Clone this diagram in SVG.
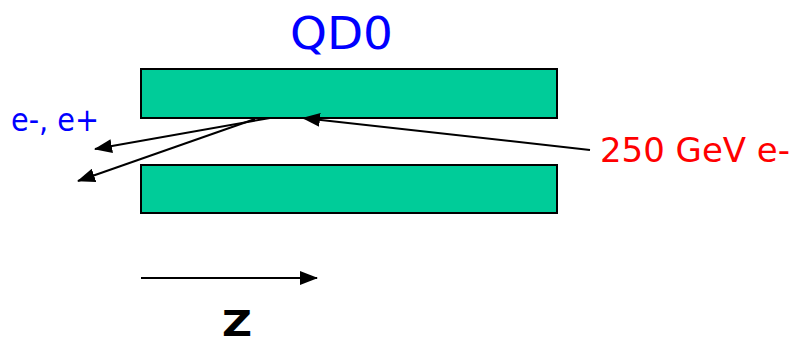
<svg xmlns="http://www.w3.org/2000/svg" width="797" height="346" viewBox="0 0 797 346">
<style>
.bar{fill:#00CC99;stroke:#000;stroke-width:2}
.ln{stroke:#000;stroke-width:2;fill:none;marker-end:url(#ah)}
text{font-family:"DejaVu Sans","Liberation Sans",sans-serif}
</style>
<defs>
<marker id="ah" viewBox="0 0 18 14" refX="17" refY="7" markerWidth="18" markerHeight="14" markerUnits="userSpaceOnUse" orient="auto"><path d="M0,0L18,7L0,14z" fill="#000"/></marker>
</defs>
<rect width="797" height="346" fill="#fff"/>
<g id="qd0-label"><text x="290" y="49" font-size="44" fill="#0000FF" textLength="103" lengthAdjust="spacingAndGlyphs">QD0</text></g>
<g id="top-bar"><rect class="bar" x="141" y="69" width="416" height="49"/></g>
<g id="bottom-bar"><rect class="bar" x="141" y="165" width="416" height="48"/></g>
<g id="ee-label"><text x="11" y="131" font-size="32" fill="#0000FF" textLength="88" lengthAdjust="spacingAndGlyphs">e-, e+</text></g>
<g id="beam-label"><text x="600" y="162" font-size="34" fill="#FF0000" textLength="190" lengthAdjust="spacingAndGlyphs">250 GeV e-</text></g>
<g id="z-label"><text x="222" y="336" font-size="36" font-weight="bold" fill="#000" textLength="30" lengthAdjust="spacingAndGlyphs">Z</text></g>
<g id="connectors">
<line class="ln" x1="590" y1="150" x2="303" y2="118"/>
<line class="ln" x1="270" y1="118" x2="95" y2="149"/>
<line class="ln" x1="255" y1="119" x2="78" y2="181"/>
<line class="ln" x1="141" y1="278" x2="317" y2="278"/>
</g>
</svg>
